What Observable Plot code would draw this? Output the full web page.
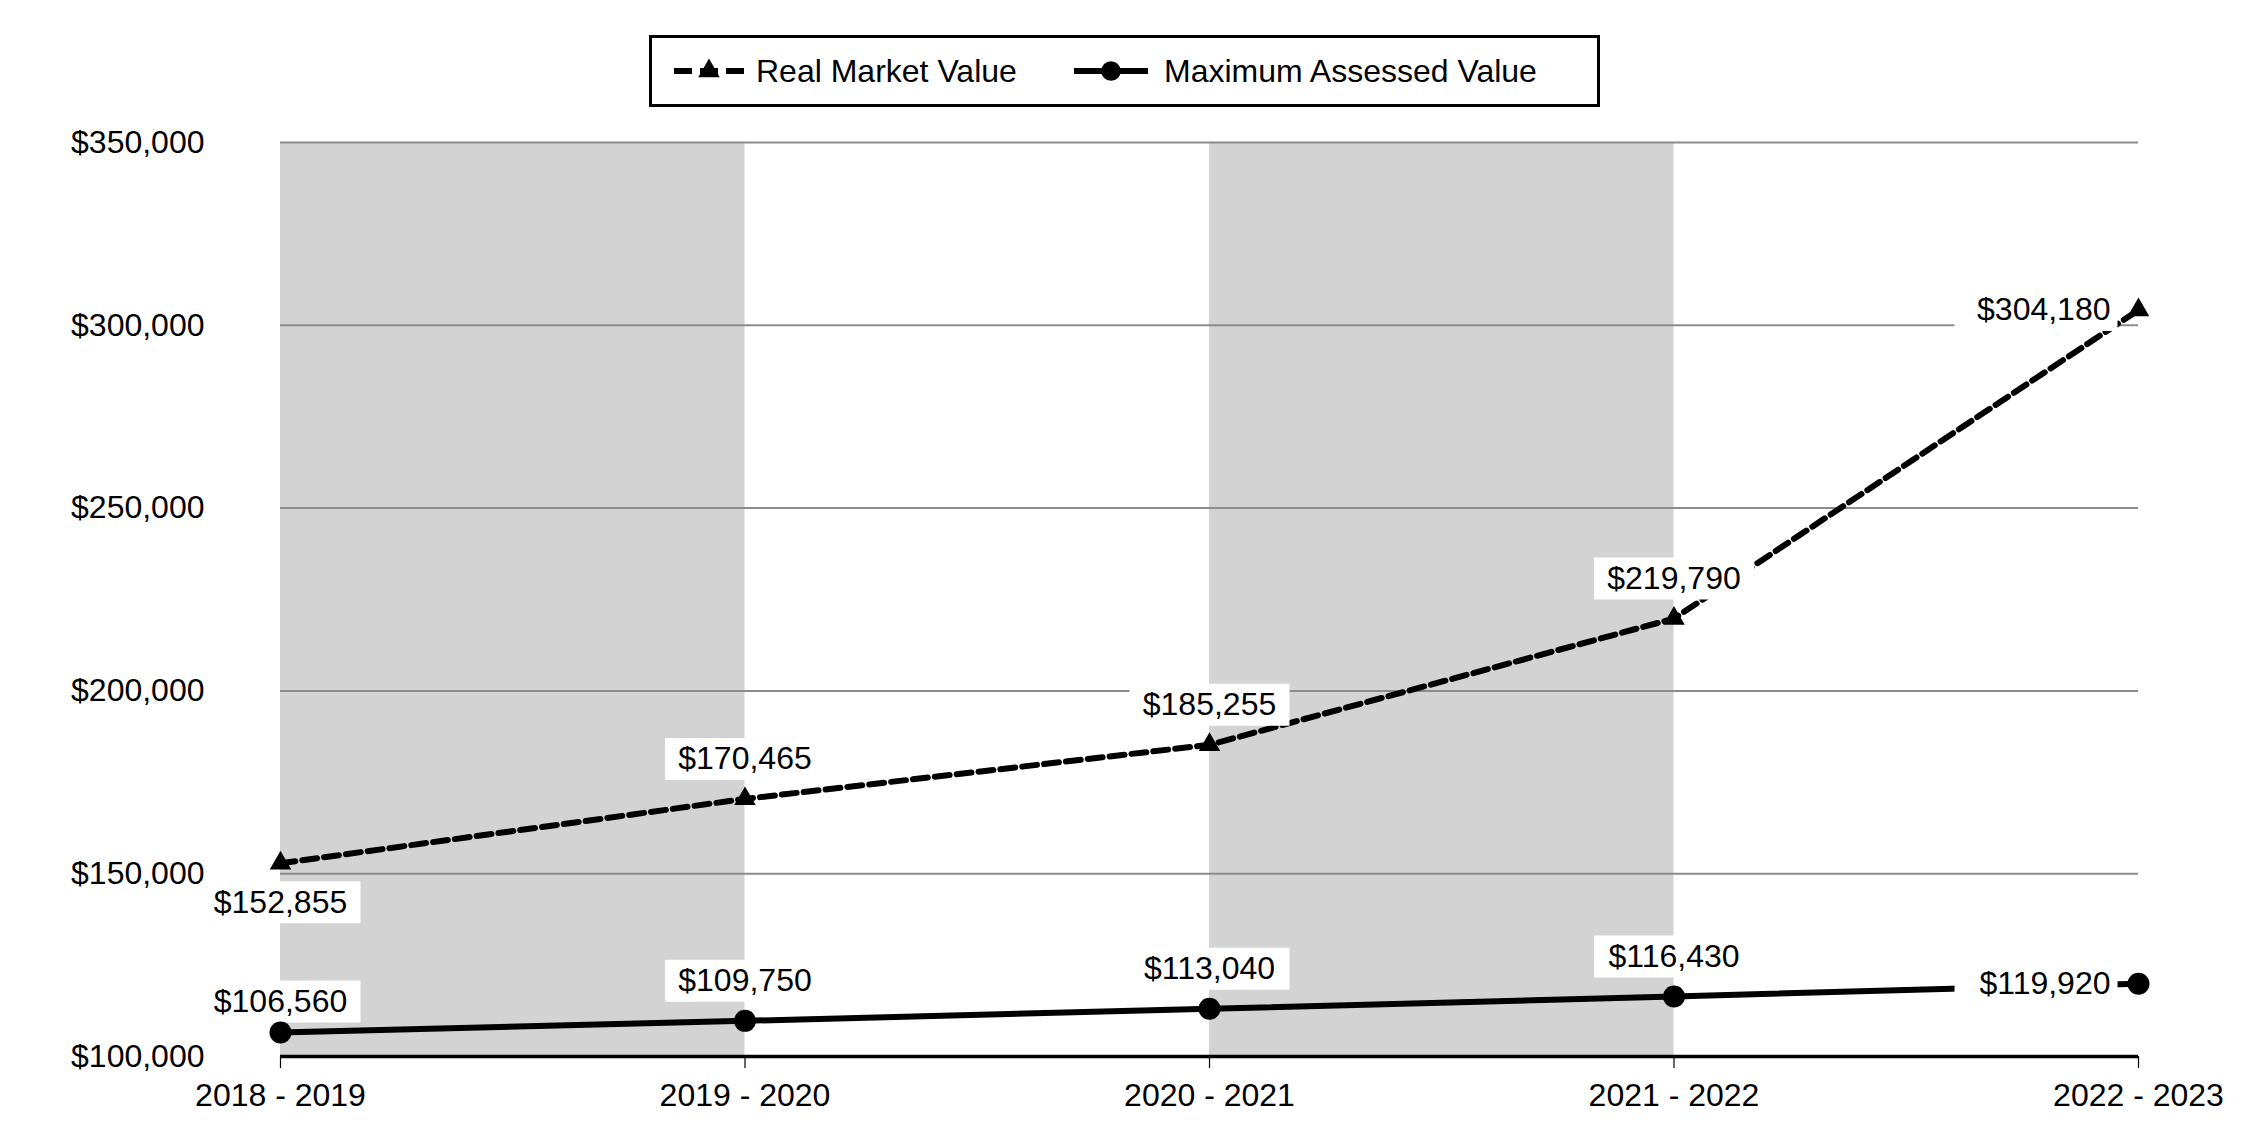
<!DOCTYPE html>
<html><head><meta charset="utf-8">
<script src="https://cdn.jsdelivr.net/npm/d3@7"></script>
<script src="https://cdn.jsdelivr.net/npm/@observablehq/plot@0.6"></script>
<style>
body{margin:0;background:#fff;font-family:"Liberation Sans",Arial,sans-serif;}
#wrap{position:relative;width:2250px;height:1140px;overflow:hidden;background:#fff}
#legend{position:absolute;left:649px;top:35px;width:951px;height:72px;border:3px solid #000;box-sizing:border-box;background:#fff}
.li{position:absolute;top:0;height:66px;line-height:66px;font-size:32px;color:#000;white-space:nowrap}
.sw{position:absolute;top:0}
#chart{position:absolute;left:0;top:110px}
</style></head>
<body><div id="wrap"><div id="legend"></div><div id="chart"></div></div>
<script>
// ---- data ----
const years = ["2018 - 2019", "2019 - 2020", "2020 - 2021", "2021 - 2022", "2022 - 2023"];
const realMarketValue = [152855, 170465, 185255, 219790, 304180];
const maxAssessedValue = [106560, 109750, 113040, 116430, 119920];
const yTicks = [100000, 150000, 200000, 250000, 300000, 350000];
const shadedStarts = ["2018 - 2019", "2020 - 2021"];
const seriesNames = ["Real Market Value", "Maximum Assessed Value"];

// ---- derived ----
const fmt = d3.format("$,");
const idx = years.map((d, i) => i);
const n = years.length;
const rows = (vals, key) => vals.map((v, i) => ({i, v, key, label: fmt(v)}));
const rmv = rows(realMarketValue, "rmv");
const mav = rows(maxAssessedValue, "mav");
const all = rmv.concat(mav);
const bands = shadedStarts.map(s => ({x1: years.indexOf(s), x2: years.indexOf(s) + 1}));

function place(d) {
  if (d.i === n - 1) return "left";
  if (d.key === "rmv" && d.i === 0) return "below";
  if (d.key === "mav" && d.i === 0) return "aboveNear";
  return "above";
}
const above = all.filter(d => place(d) === "above");
const aboveNear = all.filter(d => place(d) === "aboveNear");
const below = all.filter(d => place(d) === "below");
const left = all.filter(d => place(d) === "left");

const boxC = {draw(ctx) { ctx.rect(-80, -21, 160, 42); }};
const boxL = {draw(ctx) { ctx.rect(-184, -21, 163, 42); }};

const chart = Plot.plot({
  width: 2250,
  height: 1030,
  marginLeft: 280,
  marginRight: 112,
  marginTop: 32,
  marginBottom: 84,
  style: {fontFamily: "'Liberation Sans', Arial, sans-serif", fontSize: "32px", color: "#000", background: "#fff"},
  x: {type: "linear", domain: [0, n - 1]},
  y: {type: "linear", domain: [yTicks[0], yTicks[yTicks.length - 1]]},
  marks: [
    Plot.rect(bands, {x1: "x1", x2: "x2", y1: yTicks[0], y2: yTicks[yTicks.length - 1], fill: "#d3d3d3"}),
    Plot.ruleY(yTicks.slice(1), {stroke: "#8c8c8c", strokeWidth: 2}),
    Plot.ruleY([yTicks[0]], {stroke: "#000", strokeWidth: 3.5}),
    Plot.axisX(idx, {tickFormat: i => years[i], tickSize: 12, tickPadding: 15, fontSize: 32, stroke: "#000", strokeWidth: 1.2, label: null}),
    Plot.axisY(yTicks, {tickFormat: fmt, tickSize: 0, tickPadding: 76, fontSize: 32, label: null}),
    Plot.line(rmv, {x: "i", y: "v", stroke: "#000", strokeWidth: 6, strokeDasharray: "15,7"}),
    Plot.line(mav, {x: "i", y: "v", stroke: "#000", strokeWidth: 6}),
    Plot.dot(above, {x: "i", y: "v", symbol: boxC, r: 5, fill: "#fff", dy: -40}),
    Plot.dot(aboveNear, {x: "i", y: "v", symbol: boxC, r: 5, fill: "#fff", dy: -31}),
    Plot.dot(below, {x: "i", y: "v", symbol: boxC, r: 5, fill: "#fff", dy: 39}),
    Plot.dot(left, {x: "i", y: "v", symbol: boxL, r: 5, fill: "#fff"}),
    Plot.dot(rmv, {x: "i", y: "v", symbol: "triangle", r: 8, fill: "#000"}),
    Plot.dot(mav, {x: "i", y: "v", symbol: "circle", r: 11, fill: "#000"}),
    Plot.text(above, {x: "i", y: "v", text: "label", dy: -40, fontSize: 32, fill: "#000"}),
    Plot.text(aboveNear, {x: "i", y: "v", text: "label", dy: -31, fontSize: 32, fill: "#000"}),
    Plot.text(below, {x: "i", y: "v", text: "label", dy: 39, fontSize: 32, fill: "#000"}),
    Plot.text(left, {x: "i", y: "v", text: "label", dx: -28, textAnchor: "end", fontSize: 32, fill: "#000"})
  ]
});
document.getElementById("chart").appendChild(chart);

// ---- legend ----
const legend = document.getElementById("legend");
const ns = "http://www.w3.org/2000/svg";
function sw(leftPx, w, dashed, sym) {
  const s = document.createElementNS(ns, "svg");
  s.setAttribute("width", w); s.setAttribute("height", 66);
  s.setAttribute("class", "sw"); s.style.left = leftPx + "px";
  const l = document.createElementNS(ns, "line");
  l.setAttribute("x1", 0); l.setAttribute("x2", w); l.setAttribute("y1", 33); l.setAttribute("y2", 33);
  l.setAttribute("stroke", "#000"); l.setAttribute("stroke-width", 6);
  if (dashed) l.setAttribute("stroke-dasharray", "18,8");
  s.appendChild(l);
  const p = document.createElementNS(ns, "path");
  p.setAttribute("d", d3.symbol(sym === "triangle" ? d3.symbolTriangle : d3.symbolCircle, sym === "triangle" ? 200 : 300)());
  p.setAttribute("transform", `translate(${w / 2},33)`);
  p.setAttribute("fill", "#000");
  s.appendChild(p);
  legend.appendChild(s);
}
function lt(leftPx, text) {
  const d = document.createElement("div");
  d.className = "li"; d.style.left = leftPx + "px"; d.textContent = text;
  legend.appendChild(d);
}
sw(22, 70, true, "triangle"); lt(104, seriesNames[0]);
sw(422, 74, false, "circle"); lt(512, seriesNames[1]);
</script>
</body></html>
